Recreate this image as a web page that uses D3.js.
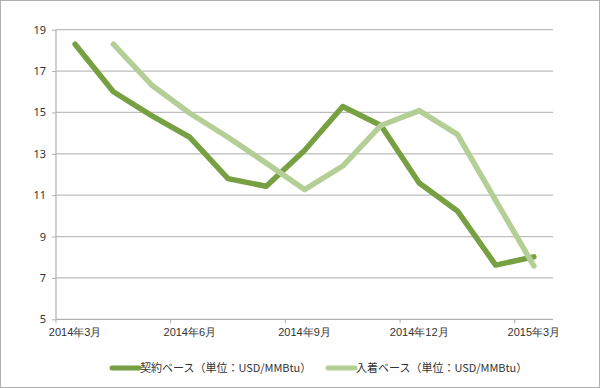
<!DOCTYPE html>
<html><head><meta charset="utf-8">
<script src="https://cdn.jsdelivr.net/npm/d3@7"></script>
<style>
html,body{margin:0;padding:0;background:#fff;}
svg{display:block;font-family:"Noto Sans CJK JP","Noto Sans",sans-serif;}
</style></head><body>
<svg id="c" width="600" height="388"></svg>
<script>
const months = ["2014年3月","2014年4月","2014年5月","2014年6月","2014年7月","2014年8月","2014年9月","2014年10月","2014年11月","2014年12月","2015年1月","2015年2月","2015年3月"];
const tickLabels = ["2014年3月","2014年6月","2014年9月","2014年12月","2015年3月"];
const yTicks = [5,7,9,11,13,15,17,19];
const contractName = "契約ベース（単位：USD/MMBtu）";
const arrivalName = "入着ベース（単位：USD/MMBtu）";
const contractValues = [18.3,16.0,14.85,13.8,11.8,11.43,13.16,15.29,14.37,11.59,10.24,7.62,8.02];
const arrivalValues = [null,18.3,16.33,14.96,13.8,12.55,11.27,12.41,14.37,15.09,13.94,10.75,7.58];

const svg = d3.select("#c");
const L = 56, R = 553, T = 29.7, B = 319.3;
const x = d3.scaleBand().domain(months).range([L, R]);
const y = d3.scaleLinear().domain([5, 19]).range([B, T]);
const cx = m => x(m) + x.bandwidth() / 2;

svg.append("rect").attr("x",0.5).attr("y",0.5).attr("width",599).attr("height",387)
  .attr("fill","#fff").attr("stroke","#b0b0b0");

// gridlines
svg.append("g").selectAll("line").data(yTicks.filter(v => v > 5)).join("line")
  .attr("x1", L).attr("x2", R).attr("y1", d => y(d)).attr("y2", d => y(d))
  .attr("stroke", "#bdbdbd").attr("stroke-width", 1.2);

// y axis
const yAxis = svg.append("g").attr("transform", `translate(${L},0)`)
  .call(d3.axisLeft(y).tickValues(yTicks).tickSize(4).tickPadding(6).tickFormat(d3.format("d")));
yAxis.select(".domain").remove();
yAxis.append("line").attr("x1",0).attr("x2",0).attr("y1",T).attr("y2",B).attr("stroke","#b0b0b0").attr("stroke-width",1.2);
yAxis.selectAll(".tick line").attr("stroke","#b0b0b0");
yAxis.selectAll(".tick text").attr("fill","#333").attr("font-size","11px").style("font-family","'Noto Sans','Noto Sans CJK JP',sans-serif");

// x axis
const xAxis = svg.append("g").attr("transform", `translate(0,${B})`)
  .call(d3.axisBottom(x).tickValues(tickLabels).tickSize(0).tickPadding(9));
xAxis.select(".domain").remove();
xAxis.append("line").attr("x1",L).attr("x2",R).attr("y1",0).attr("y2",0).attr("stroke","#b0b0b0").attr("stroke-width",1.2);
xAxis.selectAll(".tick text").attr("fill","#333").attr("font-size","11px");
// tick marks at band boundaries every 3 months
xAxis.append("g").selectAll("line").data(tickLabels).join("line")
  .attr("x1", d => x(d)).attr("x2", d => x(d)).attr("y1", 0).attr("y2", 4)
  .attr("stroke","#b0b0b0");

const line = d3.line().defined(d => d.v != null).x(d => cx(d.m)).y(d => y(d.v));
const cData = months.map((m,i) => ({m, v: contractValues[i]}));
const aData = months.map((m,i) => ({m, v: arrivalValues[i]}));

svg.append("path").datum(cData).attr("d", line).attr("fill","none")
  .attr("stroke","#77a043").attr("stroke-width",5.5).attr("stroke-linejoin","round").attr("stroke-linecap","round");
svg.append("path").datum(aData).attr("d", line).attr("fill","none")
  .attr("stroke","#b4cf95").attr("stroke-width",5.5).attr("stroke-linejoin","round").attr("stroke-linecap","round");

// legend
const leg = [
  {name: contractName, color: "#77a043", x: 112},
  {name: arrivalName, color: "#b4cf95", x: 328}
];
const lg = svg.append("g").selectAll("g").data(leg).join("g").attr("transform", d => `translate(${d.x},368)`);
lg.append("line").attr("x1",0).attr("x2",27).attr("y1",0).attr("y2",0)
  .attr("stroke", d => d.color).attr("stroke-width",5).attr("stroke-linecap","round");
lg.append("text").attr("x",28).attr("y",0).attr("dy","0.35em").attr("font-size","11px").attr("fill","#333")
  .text(d => d.name);
</script>
</body></html>
